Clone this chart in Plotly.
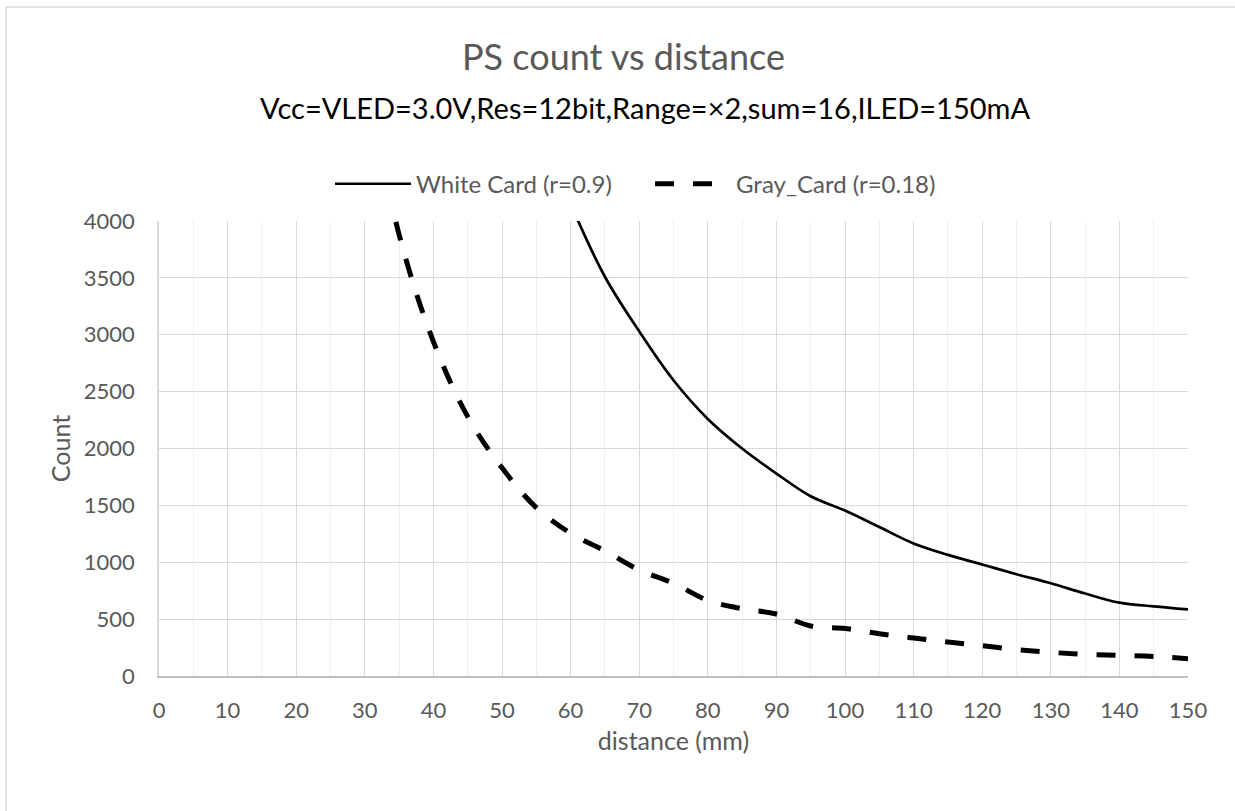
import plotly.graph_objects as go

# ---- data ----
distance_white = [60, 65, 70, 75, 80, 85, 90, 95, 100, 105, 110, 115, 120, 125, 130, 135, 140, 145, 150]
count_white = [4150, 3510, 3030, 2600, 2260, 2000, 1780, 1580, 1455, 1310, 1165, 1065, 980, 895, 815, 725, 645, 612, 585]

distance_gray = [30, 35, 40, 45, 50, 55, 60, 65, 70, 75, 80, 85, 90, 95, 100, 105, 110, 115, 120, 125, 130, 135, 140, 145, 150]
count_gray = [5300, 3880, 2940, 2280, 1830, 1480, 1255, 1100, 932, 815, 665, 592, 545, 440, 417, 372, 334, 299, 267, 232, 208, 190, 182, 172, 152]

x_ticks = list(range(0, 151, 10))
y_ticks = list(range(0, 4001, 500))

title_text = "PS count vs distance"
subtitle_text = "Vcc=VLED=3.0V,Res=12bit,Range=×2,sum=16,ILED=150mA"
name_white = "White Card (r=0.9)"
name_gray = "Gray_Card (r=0.18)"

FONT = "Lato, 'Open Sans', sans-serif"
GRAY = "#595959"

fig = go.Figure()
fig.add_trace(go.Scatter(
    x=distance_white, y=count_white, name=name_white, mode="lines",
    line=dict(color="black", width=2.7, shape="spline", smoothing=1.0),
))
fig.add_trace(go.Scatter(
    x=distance_gray, y=count_gray, name=name_gray, mode="lines",
    line=dict(color="black", width=5, shape="spline", smoothing=1.0, dash="19px,19px"),
))

fig.update_layout(
    width=1240, height=816,
    margin=dict(l=159, r=52, t=221, b=140),
    paper_bgcolor="white", plot_bgcolor="white",
    font=dict(family=FONT, color=GRAY, size=22),
    showlegend=True,
    legend=dict(orientation="h", x=0.1662, y=1.081, xanchor="left", yanchor="middle",
                font=dict(size=24, color=GRAY), itemwidth=76,
                entrywidth=229, entrywidthmode="pixels",
                traceorder="normal", bgcolor="rgba(0,0,0,0)"),
    annotations=[
        dict(text=title_text, x=0.451, y=1.363, xref="paper", yref="paper",
             showarrow=False, font=dict(size=36, color=GRAY, family=FONT),
             xanchor="center", yanchor="middle"),
        dict(text=subtitle_text, x=0.4723, y=1.25, xref="paper", yref="paper",
             showarrow=False, font=dict(size=29, color="black", family=FONT),
             xanchor="center", yanchor="middle"),
    ],
    shapes=[
        dict(type="line", xref="paper", yref="paper", x0=-0.1487, x1=1.3, y0=1.4703, y1=1.4703,
             line=dict(color="#d9d9d9", width=1.5), layer="below"),
        dict(type="line", xref="paper", yref="paper", x0=-0.1487, x1=-0.1487, y0=-0.5, y1=1.4703,
             line=dict(color="#d9d9d9", width=1.5), layer="below"),
    ],
)

fig.update_xaxes(
    range=[0, 150], tickvals=x_ticks, ticktext=[str(v) for v in x_ticks],
    showgrid=True, gridcolor="#d9d9d9", gridwidth=1,
    minor=dict(dtick=5, showgrid=True, gridcolor="#efefef", gridwidth=1),
    showline=True, linecolor="#bfbfbf", linewidth=1.5,
    zeroline=False, ticks="outside", ticklen=14, tickcolor="rgba(0,0,0,0)",
    tickfont=dict(size=22, color=GRAY),
    title=dict(text="distance (mm)", font=dict(size=25, color=GRAY), standoff=10),
)
fig.update_yaxes(
    range=[0, 4000], tickvals=y_ticks, ticktext=[str(v) for v in y_ticks],
    showgrid=True, gridcolor="#d9d9d9", gridwidth=1,
    showline=True, linecolor="#d9d9d9", linewidth=1.5,
    zeroline=False, ticks="outside", ticklen=18, tickcolor="rgba(0,0,0,0)",
    tickfont=dict(size=22, color=GRAY),
    title=dict(text="Count", font=dict(size=25, color=GRAY), standoff=6),
)

fig.write_html(
    "out.html",
    config={"displayModeBar": False},
    post_script="document.body.style.margin='0';document.body.style.overflow='hidden';"
                "document.documentElement.style.overflow='hidden';",
)
